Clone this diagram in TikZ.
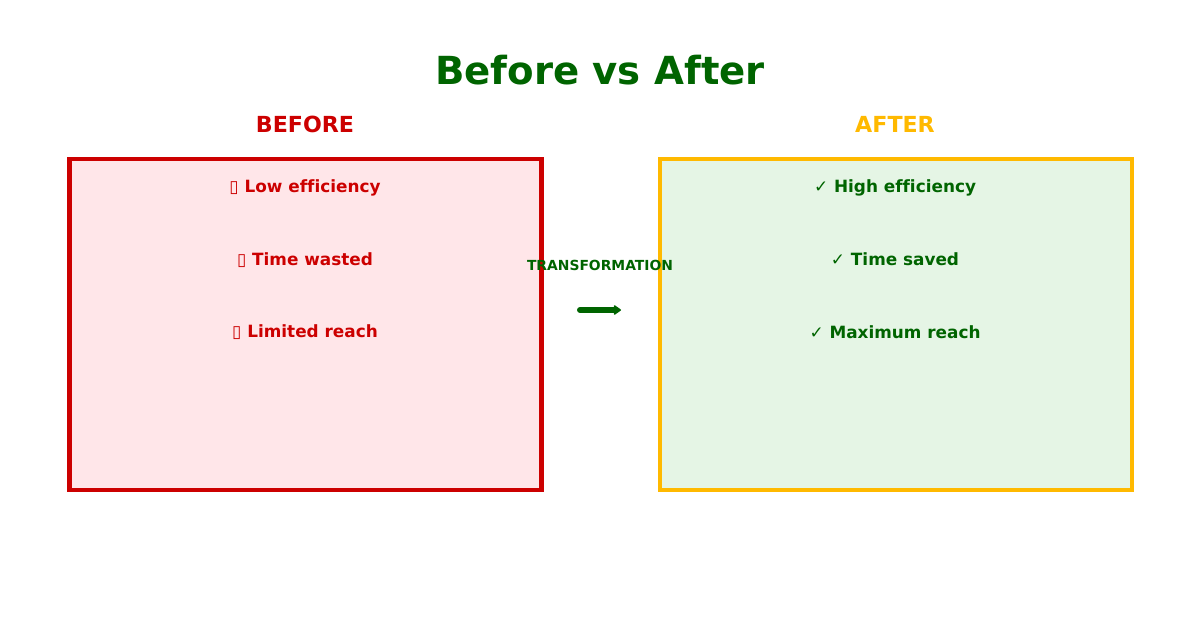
\documentclass[tikz,border=0pt]{standalone}
\usepackage{fontspec}
\setmainfont{DejaVu Sans}[Ligatures=NoCommon]
\usepackage{tikz}
\usetikzlibrary{arrows.meta,positioning}
\usepackage{xcolor}

\definecolor{badred}{HTML}{CC0000}
\definecolor{goodgreen}{HTML}{006400}
\definecolor{afteryellow}{HTML}{FFB900}
\definecolor{badfill}{HTML}{FFE6E9}
\definecolor{goodfill}{HTML}{E5F5E5}

\tikzset{
    panel/.style={line width=2.3pt, minimum width=472*0.02cm, minimum height=331*0.02cm, inner sep=0pt},
    heading/.style={font=\fontsize{12.6}{15}\selectfont\bfseries},
    item/.style={font=\fontsize{9.6}{11}\selectfont\bfseries}
}

\begin{document}
\begin{tikzpicture}[x=0.02cm, y=-0.02cm]
    \useasboundingbox (0,0) rectangle (1200,622);

    % Title
    \node[font=\fontsize{22}{26}\selectfont\bfseries, text=goodgreen] (title) at (600,70) {Before vs After};

    % Panels
    \node[panel, draw=badred, fill=badfill] (before) at (305.5,324.5) {};
    \node[panel, draw=afteryellow, fill=goodfill] (after) at (896,324.5) {};

    % Panel headings
    \node[heading, text=badred] (beforehead) at (305,124.5) {BEFORE};
    \node[heading, text=afteryellow] (afterhead) at (895,124.5) {AFTER};

    % Items before
    \node[item, text=badred] (b1) at (305,187.5) {▯ Low efficiency};
    \node[item, text=badred] (b2) at (305,260.5) {▯ Time wasted};
    \node[item, text=badred] (b3) at (305,332.5) {▯ Limited reach};

    % Items after
    \node[item, text=goodgreen] (a1) at (895,187.5) {✓ High efficiency};
    \node[item, text=goodgreen] (a2) at (895,259.5) {✓ Time saved};
    \node[item, text=goodgreen] (a3) at (895,332.5) {✓ Maximum reach};

    % Transformation arrow
    \node[font=\fontsize{7.9}{9}\selectfont\bfseries, text=goodgreen] (trans) at (600,265.5) {TRANSFORMATION};
    \coordinate (arrs) at (580,310);
    \coordinate (arre) at (621,310);
    \draw[goodgreen, line width=3.4pt, line cap=round, -{Stealth[length=5pt, width=7pt, round]}] (arrs) -- (arre);
\end{tikzpicture}
\end{document}
